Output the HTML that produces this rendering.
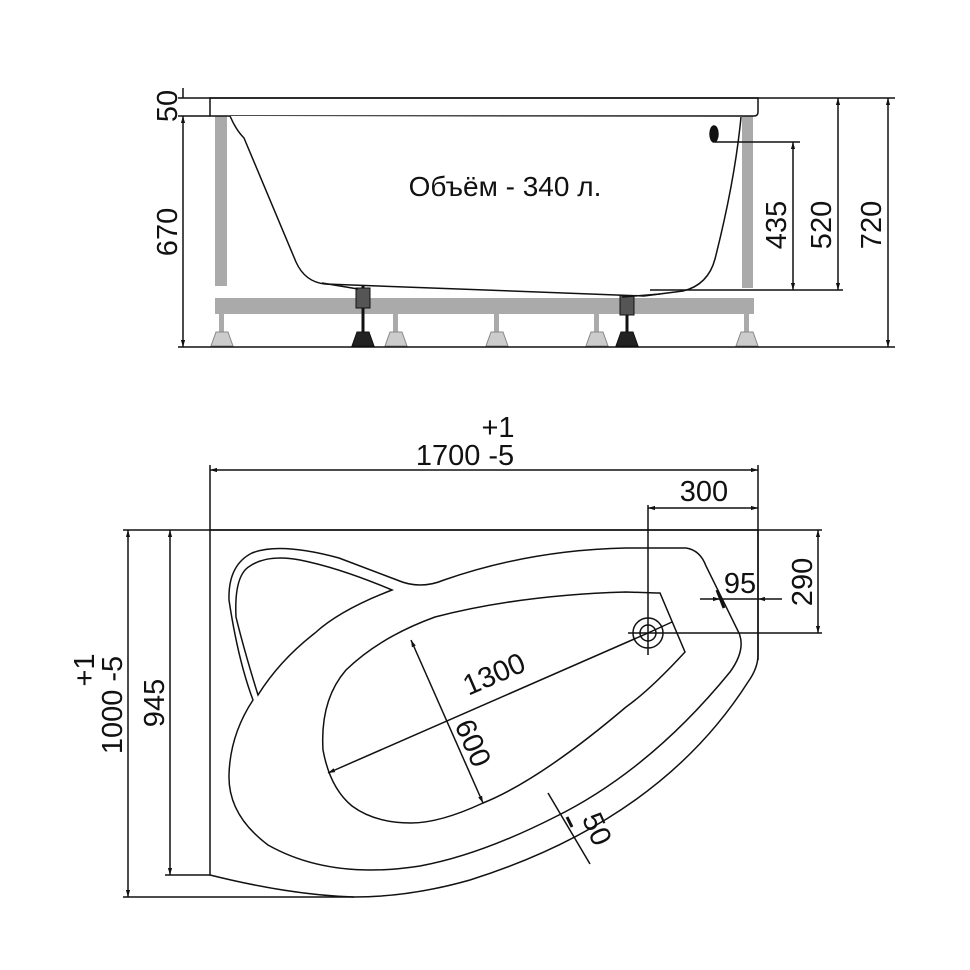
<!DOCTYPE html>
<html><head><meta charset="utf-8"><style>
html,body{margin:0;padding:0;background:#fff}
svg{display:block}
text{font-family:"Liberation Sans",sans-serif;fill:#111}
</style></head><body>
<svg width="970" height="970" viewBox="0 0 970 970" xmlns="http://www.w3.org/2000/svg">
<defs>
<marker id="a" viewBox="0 0 10 10" refX="10" refY="5" markerWidth="10" markerHeight="7" orient="auto-start-reverse" markerUnits="userSpaceOnUse"><path d="M0,2 L10,5 L0,8 z" fill="#111"/></marker>
</defs>
<g stroke="#111" stroke-width="1.5" fill="none">
<g fill="#aaa" stroke="none">
<rect x="215" y="116" width="12" height="170"/>
<rect x="742" y="116" width="11" height="172"/>
<rect x="215" y="298" width="539" height="16"/>
<rect x="219" y="314" width="5" height="18"/>
<rect x="393" y="314" width="5" height="18"/>
<rect x="494" y="314" width="5" height="18"/>
<rect x="594" y="314" width="5" height="18"/>
<rect x="744" y="314" width="5" height="18"/>
</g>
<g fill="#ccc" stroke="#888" stroke-width="1">
<path d="M216,332 h12 l5,14 h-22z"/>
<path d="M390,332 h12 l5,14 h-22z"/>
<path d="M491,332 h12 l5,14 h-22z"/>
<path d="M591,332 h12 l5,14 h-22z"/>
<path d="M741,332 h12 l5,14 h-22z"/>
</g>
<g stroke="#111" stroke-width="3">
<line x1="363" y1="266" x2="363" y2="332"/>
<line x1="627" y1="266" x2="627" y2="332"/>
</g>
<g fill="#555" stroke="#111" stroke-width="1">
<rect x="356" y="288" width="14" height="20"/>
<rect x="620" y="295" width="14" height="20"/>
<path d="M357,332 h12 l5,14 h-22z" fill="#222"/>
<path d="M621,332 h12 l5,14 h-22z" fill="#222"/>
</g>
<path d="M210,98 H758 V112 Q758,116 754,116 H210 Z" fill="#fff"/>
<path d="M230,116 Q236,130 244,138 L296,262 Q305,282 325,284 L644,296 L683,291 Q708,285 715,259 Q735,180 741,117" fill="#fff"/>
<path d="M322,283 L358,289" />
<path d="M622,297 L660,294" />
<ellipse cx="714" cy="134" rx="4" ry="8" fill="#111"/>
<line x1="178" y1="98" x2="895" y2="98"/>
<line x1="178" y1="116" x2="210" y2="116"/>
<line x1="178" y1="347" x2="895" y2="347"/>
<line x1="183" y1="88" x2="183" y2="98"/>
<line x1="183" y1="116" x2="183" y2="347" marker-start="url(#a)" marker-end="url(#a)"/>
<line x1="888" y1="98" x2="888" y2="347" marker-start="url(#a)" marker-end="url(#a)"/>
<line x1="838" y1="98" x2="838" y2="290" marker-start="url(#a)" marker-end="url(#a)"/>
<line x1="793" y1="142" x2="793" y2="290" marker-start="url(#a)" marker-end="url(#a)"/>
<line x1="715" y1="142" x2="800" y2="142"/>
<line x1="650" y1="290" x2="843" y2="290"/>
<path d="M210,530 H758 V655 Q758,668 748,682 Q660,820 470,880 Q410,897 354,897 Q290,895 210,875 Z" fill="#fff"/>
<path d="M686,548 Q700,550 706,566 L739,633 Q746,650 730,672 Q650,770 555,817 Q480,855 420,866 Q330,880 268,845 Q228,815 229,775 Q230,735 253,700 Q238,660 229,600 Q228,565 252,553 Q280,542 339,558 L397,580 Q420,590 444,580 Q530,550 626,548 Z"/>
<path d="M258,695 Q244,650 236,617 Q234,575 250,566 Q268,554 300,560 Q340,568 392,590 Q340,610 315,633 Q280,660 258,695 Z"/>
<path d="M657,593 H660 L685,652 Q650,690 626,707 Q540,780 483,803 Q440,823 411,823 Q375,823 352,806 Q330,788 323,750 Q320,700 346,670 Q380,637 435,617 Q520,595 626,592 Z"/>
<circle cx="648" cy="633" r="15"/>
<circle cx="648" cy="633" r="8"/>
<line x1="648" y1="633" x2="672" y2="622"/>
<line x1="648" y1="633" x2="328" y2="773" marker-end="url(#a)"/>
<line x1="411" y1="640" x2="483" y2="803" marker-start="url(#a)" marker-end="url(#a)"/>
<line x1="548" y1="793" x2="590" y2="864"/>
<line x1="567" y1="817" x2="572" y2="827" stroke-width="3"/>
<line x1="210" y1="465" x2="210" y2="530"/>
<line x1="758" y1="465" x2="758" y2="660"/>
<line x1="210" y1="470" x2="758" y2="470" marker-start="url(#a)" marker-end="url(#a)"/>
<line x1="648" y1="505" x2="648" y2="655"/>
<line x1="648" y1="508" x2="758" y2="508" marker-start="url(#a)" marker-end="url(#a)"/>
<line x1="123" y1="530" x2="822" y2="530"/>
<line x1="628" y1="633" x2="822" y2="633"/>
<line x1="818" y1="530" x2="818" y2="633" marker-start="url(#a)" marker-end="url(#a)"/>
<line x1="700" y1="599" x2="720" y2="599" marker-end="url(#a)"/>
<line x1="782" y1="599" x2="758" y2="599" marker-end="url(#a)"/>
<line x1="720" y1="599" x2="758" y2="599"/>
<line x1="717" y1="590" x2="724" y2="608" stroke-width="3"/>
<line x1="165" y1="875" x2="210" y2="875"/>
<line x1="123" y1="897" x2="354" y2="897"/>
<line x1="170" y1="530" x2="170" y2="875" marker-start="url(#a)" marker-end="url(#a)"/>
<line x1="128" y1="530" x2="128" y2="897" marker-start="url(#a)" marker-end="url(#a)"/>
</g>
<text x="505" y="196" font-size="28" text-anchor="middle">Объём - 340 л.</text>
<g font-size="29" stroke="none">
<text transform="translate(177,106) rotate(-90)" text-anchor="middle">50</text>
<text transform="translate(177,232) rotate(-90)" text-anchor="middle">670</text>
<text transform="translate(786,225) rotate(-90)" text-anchor="middle">435</text>
<text transform="translate(831,225) rotate(-90)" text-anchor="middle">520</text>
<text transform="translate(881,225) rotate(-90)" text-anchor="middle">720</text>
<text x="498" y="437" text-anchor="middle">+1</text>
<text x="465" y="465" text-anchor="middle">1700 -5</text>
<text x="704" y="501" text-anchor="middle">300</text>
<text x="740" y="593" text-anchor="middle">95</text>
<text transform="translate(812,582) rotate(-90)" text-anchor="middle">290</text>
<text transform="translate(164,703) rotate(-90)" text-anchor="middle">945</text>
<text transform="translate(122,705) rotate(-90)" text-anchor="middle">1000 -5</text>
<text transform="translate(94,670) rotate(-90)" text-anchor="middle">+1</text>
<text transform="translate(498,683) rotate(-23.5)" text-anchor="middle">1300</text>
<text transform="translate(464,747) rotate(66)" text-anchor="middle">600</text>
<text transform="translate(588,833) rotate(66)" text-anchor="middle">50</text>
</g>
</svg>
</body></html>
